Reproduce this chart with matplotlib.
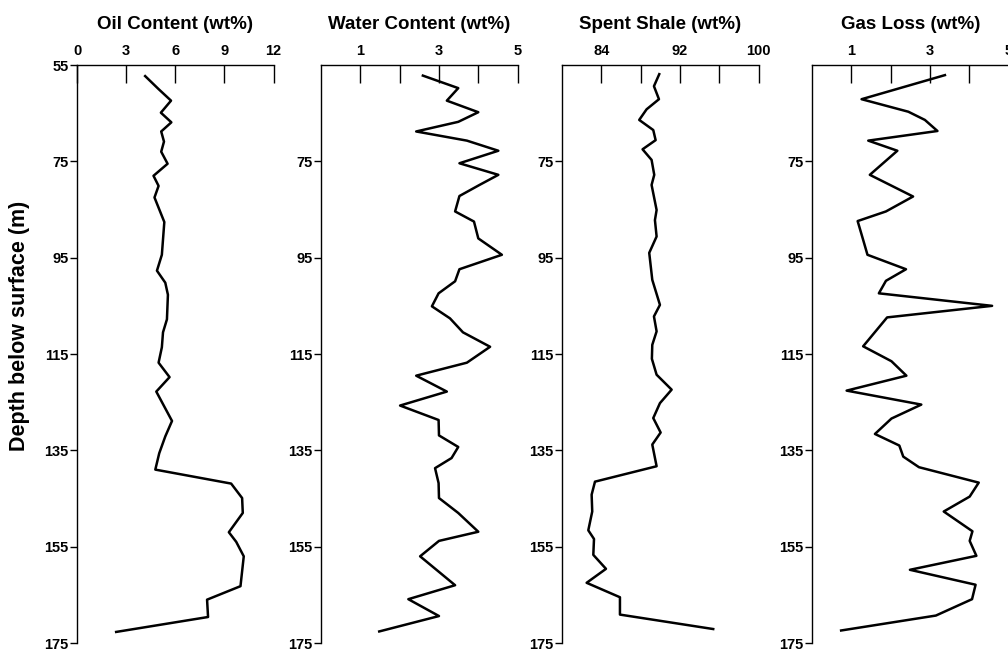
import matplotlib.pyplot as plt

plt.rcParams['font.family'] = ['Liberation Sans', 'DejaVu Sans']
plt.rcParams['font.weight'] = 'bold'

# Oil content (wt%)
oil_depth = [57.3, 60.0, 62.4, 64.9, 66.9, 68.8, 70.9, 73.0, 75.5, 78.0, 80.1, 82.5,
             87.6, 94.4, 97.7, 100.2, 102.7, 107.8, 110.5, 113.6, 116.8, 119.8, 122.8,
             128.9, 132.1, 135.6, 139.0, 141.9, 144.9, 148.0, 152.0, 154.0, 157.0,
             163.2, 166.0, 169.6, 172.7]
oil = [4.16, 4.98, 5.74, 5.12, 5.76, 5.14, 5.31, 5.14, 5.53, 4.67, 4.98, 4.73,
       5.33, 5.18, 4.88, 5.39, 5.55, 5.49, 5.25, 5.18, 4.98, 5.65, 4.84,
       5.80, 5.39, 5.02, 4.78, 9.41, 10.08, 10.12, 9.27, 9.72, 10.18,
       9.98, 7.94, 8.00, 2.39]

# Water content (wt%)
water_depth = [57.2, 59.8, 62.4, 64.8, 66.8, 68.8, 70.7, 72.8, 75.4, 77.8, 79.9, 82.2,
               85.4, 87.5, 91.0, 94.4, 97.4, 99.9, 102.4, 105.1, 107.6, 110.5, 113.5,
               116.8, 119.5, 122.8, 125.7, 128.7, 131.9, 134.3, 136.6, 138.7, 141.8,
               144.9, 148.0, 151.9, 153.8, 157.0, 163.0, 165.9, 169.4, 172.6]
water = [2.59, 3.49, 3.20, 4.00, 3.49, 2.42, 3.71, 4.51, 3.52, 4.51, 4.03, 3.52,
         3.41, 3.89, 4.00, 4.60, 3.52, 3.41, 2.99, 2.82, 3.28, 3.61, 4.30,
         3.71, 2.42, 3.20, 2.01, 2.99, 3.00, 3.49, 3.32, 2.90, 2.99,
         3.00, 3.49, 4.00, 3.00, 2.52, 3.41, 2.22, 3.00, 1.48]

# Spent shale (wt%)
shale_depth = [56.9, 59.4, 62.1, 64.2, 66.4, 68.5, 70.6, 72.5, 74.7, 77.8, 79.9, 85.1,
               87.2, 90.6, 94.0, 99.6, 104.8, 107.2, 110.3, 113.1, 116.0, 119.3, 122.4,
               125.2, 128.3, 131.3, 133.8, 138.3, 141.5, 144.2, 147.7, 151.6, 153.4,
               156.7, 159.6, 162.5, 165.5, 169.1, 172.1]
shale = [89.90, 89.36, 89.87, 88.61, 87.86, 89.29, 89.53, 88.20, 89.12, 89.39, 89.12, 89.63,
         89.46, 89.63, 88.88, 89.19, 89.97, 89.36, 89.63, 89.19, 89.15, 89.63, 91.16,
         89.97, 89.29, 90.04, 89.19, 89.63, 83.36, 83.02, 83.08, 82.68, 83.26,
         83.19, 84.48, 82.51, 85.90, 85.90, 95.39]

# Gas loss (wt%)
gas_depth = [57.1, 62.1, 64.7, 66.4, 68.7, 70.7, 72.8, 77.8, 82.3, 85.4, 87.4, 91.3,
             94.4, 97.4, 99.8, 102.4, 105.0, 107.4, 113.4, 116.5, 119.5, 122.6, 125.5,
             128.4, 131.6, 134.0, 136.3, 138.5, 141.7, 144.6, 147.7, 151.8, 153.8,
             156.9, 159.8, 162.9, 165.9, 169.3, 172.4]
gas = [3.38, 1.26, 2.45, 2.87, 3.19, 1.43, 2.17, 1.47, 2.57, 1.88, 1.16, 1.30,
       1.41, 2.39, 1.88, 1.70, 4.58, 1.91, 1.30, 2.02, 2.40, 0.88, 2.78,
       2.02, 1.60, 2.22, 2.32, 2.72, 4.24, 4.01, 3.35, 4.08, 4.01,
       4.18, 2.49, 4.16, 4.07, 3.15, 0.74]

panels = [
    ("Oil Content (wt%)", oil, oil_depth, (0, 12), [0, 3, 6, 9, 12], ["0", "3", "6", "9", "12"]),
    ("Water Content (wt%)", water, water_depth, (0, 5), [1, 2, 3, 4, 5], ["1", "", "3", "", "5"]),
    ("Spent Shale (wt%)", shale, shale_depth, (80, 100), [84, 88, 92, 96, 100], ["84", "", "92", "", "100"]),
    ("Gas Loss (wt%)", gas, gas_depth, (0, 5), [1, 2, 3, 4, 5], ["1", "", "3", "", "5"]),
]
lefts = [0.0764, 0.3185, 0.5575, 0.8056]

fig = plt.figure(figsize=(10.08, 6.54), dpi=100)

for i, (title, vals, depth, xlim, xt, xtl) in enumerate(panels):
    ax = fig.add_axes([lefts[i], 0.0168, 0.195, 0.8838])
    ax.plot(vals, depth, color="black", lw=1.8)
    ax.set_xlim(*xlim)
    ax.set_ylim(175, 55)
    ax.xaxis.tick_top()
    ax.set_xticks(xt)
    ax.set_xticklabels(xtl)
    if i == 0:
        ax.set_yticks([55, 75, 95, 115, 135, 155, 175])
        ax.set_ylabel("Depth below surface (m)", fontsize=15.5, fontweight="bold")
        ax.yaxis.set_label_coords(-0.24, 0.548)
    else:
        ax.set_yticks([75, 95, 115, 135, 155, 175])
    ax.tick_params(axis="x", direction="in", length=13, width=1, pad=5, labelsize=10.5)
    ax.tick_params(axis="y", direction="out", length=5, width=1, pad=1, labelsize=10.5)
    for s in ["right", "bottom"]:
        ax.spines[s].set_visible(False)
    for s in ["left", "top"]:
        ax.spines[s].set_linewidth(1)
    ax.set_title(title, fontsize=13.5, fontweight="bold", pad=26)

fig.savefig("out.png", dpi=100)
